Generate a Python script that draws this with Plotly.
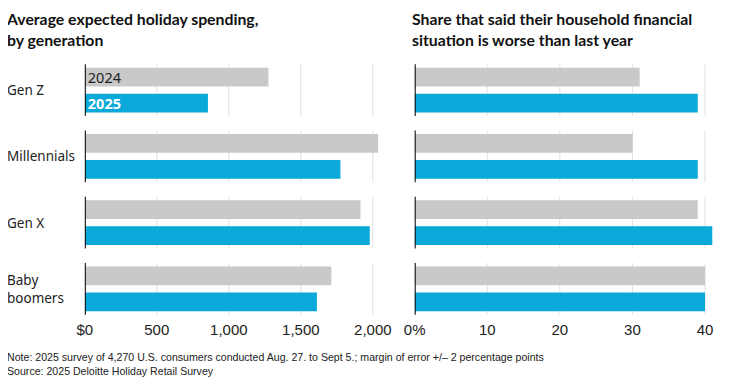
import plotly.graph_objects as go
from plotly.subplots import make_subplots

generations = ["Gen Z", "Millennials", "Gen X", "Baby boomers"]
gen_labels = ["Gen Z", "Millennials", "Gen X", "Baby<br>boomers"]
spend_2024 = [1275, 2037, 1914, 1712]
spend_2025 = [855, 1775, 1979, 1612]
worse_2024 = [31, 30, 39, 40]
worse_2025 = [39, 39, 41, 40]
spend_ticks = [0, 500, 1000, 1500, 2000]
spend_ticktext = ["$0", "500", "1,000", "1,500", "2,000"]
worse_ticks = [0, 10, 20, 30, 40]
worse_ticktext = ["0%", "10", "20", "30", "40"]
years = ["2024", "2025"]
title_left = ["Average expected holiday spending,", "by generation"]
title_right = ["Share that said their household financial", "situation is worse than last year"]
note_lines = ["Note: 2025 survey of 4,270 U.S. consumers conducted Aug. 27. to Sept 5.; margin of error +/– 2 percentage points",
              "Source: 2025 Deloitte Holiday Retail Survey"]

GRAY = "#c9c9c9"
BLUE = "#0aa9d9"
TXT = "#222222"
NARROW = "Liberation Sans Narrow, Arial Narrow, sans-serif"
SANS = "Noto Sans, sans-serif"
BOLD = "Lato, sans-serif"

fig = make_subplots(rows=1, cols=2, horizontal_spacing=0.04)

legend_text_24 = [years[0]] + [""] * (len(generations) - 1)
legend_text_25 = [years[1]] + [""] * (len(generations) - 1)

fig.add_trace(go.Bar(y=generations, x=spend_2024, orientation="h", marker_color=GRAY,
                     marker_line_width=0, text=legend_text_24, textposition="inside",
                     insidetextanchor="start", textangle=0, constraintext="none",
                     textfont=dict(family=SANS, size=14.5, color=TXT), name=years[0],
                     hoverinfo="x+y"), row=1, col=1)
fig.add_trace(go.Bar(y=generations, x=spend_2025, orientation="h", marker_color=BLUE,
                     marker_line_width=0, text=legend_text_25, textposition="inside",
                     insidetextanchor="start", textangle=0, constraintext="none",
                     textfont=dict(family=SANS, size=14.5, color="white", weight="bold"),
                     name=years[1], hoverinfo="x+y"), row=1, col=1)
fig.add_trace(go.Bar(y=generations, x=worse_2024, orientation="h", marker_color=GRAY,
                     marker_line_width=0, name=years[0], hoverinfo="x+y"), row=1, col=2)
fig.add_trace(go.Bar(y=generations, x=worse_2025, orientation="h", marker_color=BLUE,
                     marker_line_width=0, name=years[1], hoverinfo="x+y"), row=1, col=2)

fig.update_layout(
    width=730, height=386,
    margin=dict(l=0, r=0, t=49, b=72),
    paper_bgcolor="white", plot_bgcolor="white",
    barmode="group", bargap=0.215, bargroupgap=0.27,
    showlegend=False,
)

axis_common = dict(showgrid=False, zeroline=False, ticklabelstandoff=-3,
                   showline=False, ticks="", tickfont=dict(family=NARROW, size=15, color=TXT),
                   fixedrange=True)
fig.update_xaxes(domain=[0.0924, 0.5131], range=[0, 2080], tickvals=spend_ticks,
                 ticktext=spend_ticktext, row=1, col=1, **axis_common)
fig.update_xaxes(domain=[0.5557, 0.9788], range=[0, 41.5], tickvals=worse_ticks,
                 ticktext=worse_ticktext, row=1, col=2, **axis_common)
fig.update_yaxes(autorange="reversed", showticklabels=False, showgrid=False,
                 zeroline=False, showline=False, ticks="", fixedrange=True)

# segmented gridlines and zero baseline per group
for i in range(len(generations)):
    for xr, yr, tv in (("x", "y", spend_ticks), ("x2", "y2", worse_ticks)):
        for t in tv[1:]:
            fig.add_shape(type="line", xref=xr, yref=yr, x0=t, x1=t, y0=i - 0.39, y1=i + 0.39,
                          line=dict(color="#e0e0e0", width=1), layer="below")
        fig.add_shape(type="line", xref=xr, yref=yr, x0=0, x1=0, y0=i - 0.39, y1=i + 0.39,
                      line=dict(color="#111111", width=2.2), layer="above")

# category labels
for g, lab in zip(generations, gen_labels):
    fig.add_annotation(xref="paper", yref="y", x=-0.019, y=g, text=lab, showarrow=False,
                       xanchor="left", yanchor="middle", align="left",
                       font=dict(family=SANS, size=13.5, color=TXT))

# titles
for xpos, lines in ((-0.019, title_left), (0.550, title_right)):
    fig.add_annotation(xref="paper", yref="paper", x=xpos, y=1.0, yshift=28.4,
                       text="<b>" + "<br>".join(lines) + "</b>", showarrow=False, borderpad=0,
                       xanchor="left", yanchor="middle", align="left",
                       font=dict(family=BOLD, size=15.8, color="#111111"))

# notes
fig.add_annotation(xref="paper", yref="paper", x=-0.019, y=0, yshift=-42,
                   text="<br>".join(note_lines),
                   showarrow=False, xanchor="left", yanchor="middle", align="left",
                   font=dict(family=NARROW, size=10.6, color=TXT))

fig.write_html("out.html")
